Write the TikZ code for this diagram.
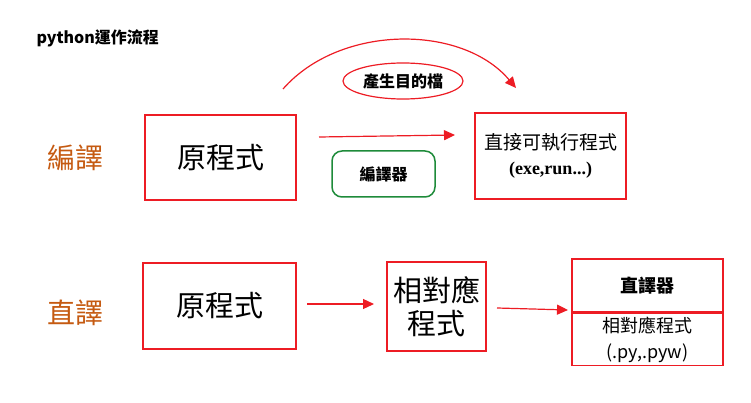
\documentclass[tikz,border=0pt]{standalone}
\usepackage{fontspec}
\setmainfont{Liberation Serif}
\newfontfamily\cjk{Noto Sans CJK TC}
\usetikzlibrary{shapes.geometric,arrows.meta}
\definecolor{boxred}{HTML}{ED1C24}
\definecolor{boxgreen}{HTML}{1E8B3A}
\definecolor{labelorange}{HTML}{C55A11}
\tikzset{
  redbox/.style={draw=boxred,line width=1.5pt,inner sep=0pt,align=center},
  flow/.style={draw=boxred,line width=1.2pt,-{Triangle[length=11pt,width=10pt]}},
  kind/.style={text=labelorange,font=\cjk\fontsize{28}{30}\selectfont}
}
\begin{document}
\begin{tikzpicture}[x=1pt,y=-1pt]
   \useasboundingbox (0,0) rectangle (751,403);
   \node[anchor=west,font=\cjk\bfseries\fontsize{16}{18}\selectfont] (title) at (33,38) {python運作流程};
   % compile row
   \node[kind] (comp) at (75,158) {編譯};
   \node[redbox,minimum width=151pt,minimum height=85pt,font=\cjk\fontsize{29}{32}\selectfont] (src1) at (220.5,157.5) {原程式};
   \node[redbox,minimum width=151pt,minimum height=86pt,font=\fontsize{19}{25}\selectfont] (exe) at (550.5,156) {{\cjk 直接可執行程式}\\{\bfseries\fontsize{18}{25}\selectfont (exe,run...)}};
   \node[draw=boxgreen,line width=1.5pt,rounded corners=10pt,minimum width=103pt,minimum height=46pt,font=\cjk\bfseries\fontsize{16}{18}\selectfont] (compiler) at (383.5,174) {編譯器};
   \node[ellipse,draw=boxred,line width=1.2pt,minimum width=120pt,minimum height=36pt,inner sep=0pt,font=\cjk\bfseries\fontsize{16}{18}\selectfont] (obj) at (403,81) {產生目的檔};
   \coordinate (arcs) at (283,89);
   \coordinate (arce) at (516,88);
   \coordinate (ls) at (319,137);
   \coordinate (le) at (455,135);
   \draw[flow] (arcs) .. controls (340,24) and (462,24) .. (arce);
   \draw[flow] (ls) -- (le);
   % interpret row
   \node[kind] (intp) at (75,313) {直譯};
   \node[redbox,minimum width=153pt,minimum height=86pt,font=\cjk\fontsize{29}{32}\selectfont] (src2) at (219.5,306) {原程式};
   \node[redbox,minimum width=99pt,minimum height=89pt,font=\cjk\fontsize{29}{33}\selectfont] (match) at (436.5,306.5) {相對應\\程式};
   \node[redbox,minimum width=151pt,minimum height=53pt,font=\cjk\bfseries\fontsize{18}{20}\selectfont] (interp) at (647.5,285.5) {直譯器};
   \node[redbox,minimum width=151pt,minimum height=52pt,anchor=north,font=\cjk\fontsize{18}{26}\selectfont] (pyfile) at (interp.south) {相對應程式\\(.py,.pyw)};
   \coordinate (a1s) at (307,304);
   \coordinate (a1e) at (374,304);
   \coordinate (a2s) at (497,308);
   \coordinate (a2e) at (568,310);
   \draw[flow] (a1s) -- (a1e);
   \draw[flow] (a2s) -- (a2e);
\end{tikzpicture}
\end{document}
